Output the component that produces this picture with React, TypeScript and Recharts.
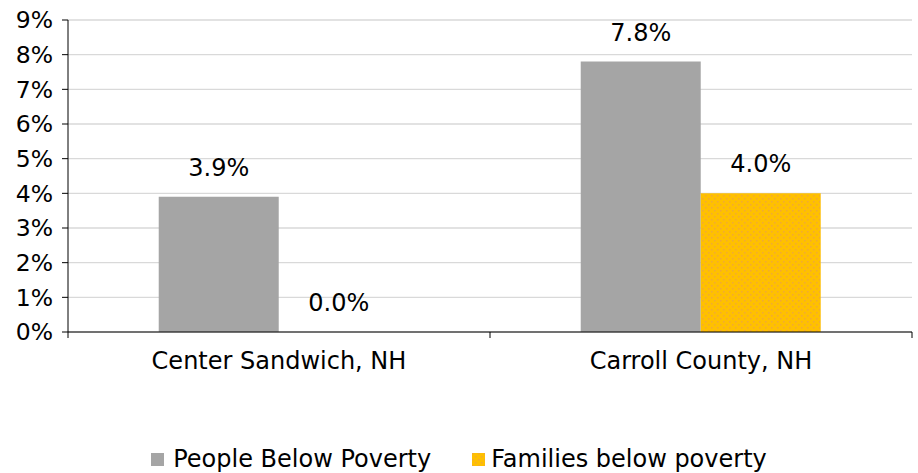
import React from "react";
import { BarChart, Bar, XAxis, YAxis, CartesianGrid, LabelList } from "recharts";

const categories = ["Center Sandwich, NH", "Carroll County, NH"];
const peopleBelowPoverty = [3.9, 7.8];
const familiesBelowPoverty = [0.0, 4.0];
const yTicks = [0, 1, 2, 3, 4, 5, 6, 7, 8, 9];

const pct = (v: number) => `${v.toFixed(1)}%`;

const data = categories.map((name, i) => ({
  name,
  people: peopleBelowPoverty[i],
  families: familiesBelowPoverty[i],
  peopleLabel: pct(peopleBelowPoverty[i]),
  familiesLabel: pct(familiesBelowPoverty[i]),
}));

const FONT = "'DejaVu Sans', sans-serif";
const FS = 24;
const WIDTH = 918;
const HEIGHT = 473;
const PLOT_LEFT = 68;
const PLOT_RIGHT = 6;
const BAND = (WIDTH - PLOT_LEFT - PLOT_RIGHT) / categories.length;

// category label plus the boundary tick marks Excel-style
const CategoryTick = (props: any) => {
  const { x, y, payload, index } = props;
  const axisY = y - 20;
  return (
    <g>
      {index === 0 && (
        <line x1={x - BAND / 2} x2={x - BAND / 2} y1={axisY} y2={axisY + 6} stroke="#000" />
      )}
      <line x1={x + BAND / 2} x2={x + BAND / 2} y1={axisY} y2={axisY + 6} stroke="#000" />
      <text
        x={x}
        y={y}
        dy="0.71em"
        textAnchor="middle"
        fontSize={FS}
        fontFamily={FONT}
        fill="#000"
      >
        {payload.value}
      </text>
    </g>
  );
};

const Dots = ({ id }: { id: string }) => (
  <pattern id={id} width="6" height="6" patternUnits="userSpaceOnUse">
    <rect width="6" height="6" fill="#ffc000" />
    <rect x="0" y="0" width="1.5" height="1.5" fill="#f0a838" />
    <rect x="3" y="3" width="1.5" height="1.5" fill="#f0a838" />
  </pattern>
);

const LegendBox = () => (
  <div
    style={{
      display: "flex",
      justifyContent: "center",
      alignItems: "center",
      fontFamily: FONT,
      fontSize: FS,
      color: "#000",
      height: 28,
    }}
  >
    <span style={{ display: "inline-block", width: 13, height: 13, background: "#a5a5a5", marginRight: 9 }} />
    <span>People Below Poverty</span>
    <svg width={13} height={13} style={{ marginLeft: 41, marginRight: 6 }}>
      <defs>
        <Dots id="legendDots" />
      </defs>
      <rect width={13} height={13} fill="url(#legendDots)" />
    </svg>
    <span>Families below poverty</span>
  </div>
);

export default function App() {
  return (
    <div style={{ position: "absolute", left: 0, top: 0, background: "#fff" }}>
      <BarChart
        width={WIDTH}
        height={HEIGHT}
        data={data}
        margin={{ top: 20, right: PLOT_RIGHT, left: 0, bottom: 28 }}
        barCategoryGap="21.5%"
        barGap={0}
        style={{ fontFamily: FONT }}
      >
        <defs>
          <Dots id="barDots" />
        </defs>
        <CartesianGrid vertical={false} stroke="#d9d9d9" strokeWidth={1.3} />
        <XAxis
          dataKey="name"
          axisLine={{ stroke: "#000" }}
          tickLine={false}
          tickSize={6}
          tickMargin={14}
          interval={0}
          height={113}
          tick={<CategoryTick />}
        />
        <YAxis
          domain={[0, 9]}
          ticks={yTicks}
          tickFormatter={(v) => `${v}%`}
          axisLine={{ stroke: "#000" }}
          tickLine={{ stroke: "#000" }}
          tickSize={6}
          tickMargin={9}
          width={PLOT_LEFT}
          tick={{ fontSize: FS - 0.5, fill: "#000", fontFamily: FONT }}
          interval={0}
        />
        <Bar dataKey="people" fill="#a5a5a5" isAnimationActive={false}>
          <LabelList
            dataKey="peopleLabel"
            position="top"
            offset={21}
            style={{ fontSize: FS, fill: "#000", fontFamily: FONT }}
          />
        </Bar>
        <Bar dataKey="families" fill="url(#barDots)" minPointSize={0.01} isAnimationActive={false}>
          <LabelList
            dataKey="familiesLabel"
            position="top"
            offset={21}
            style={{ fontSize: FS, fill: "#000", fontFamily: FONT }}
          />
        </Bar>
      </BarChart>
      <div style={{ position: "absolute", left: 0, top: 445, width: WIDTH }}>
        <LegendBox />
      </div>
    </div>
  );
}
